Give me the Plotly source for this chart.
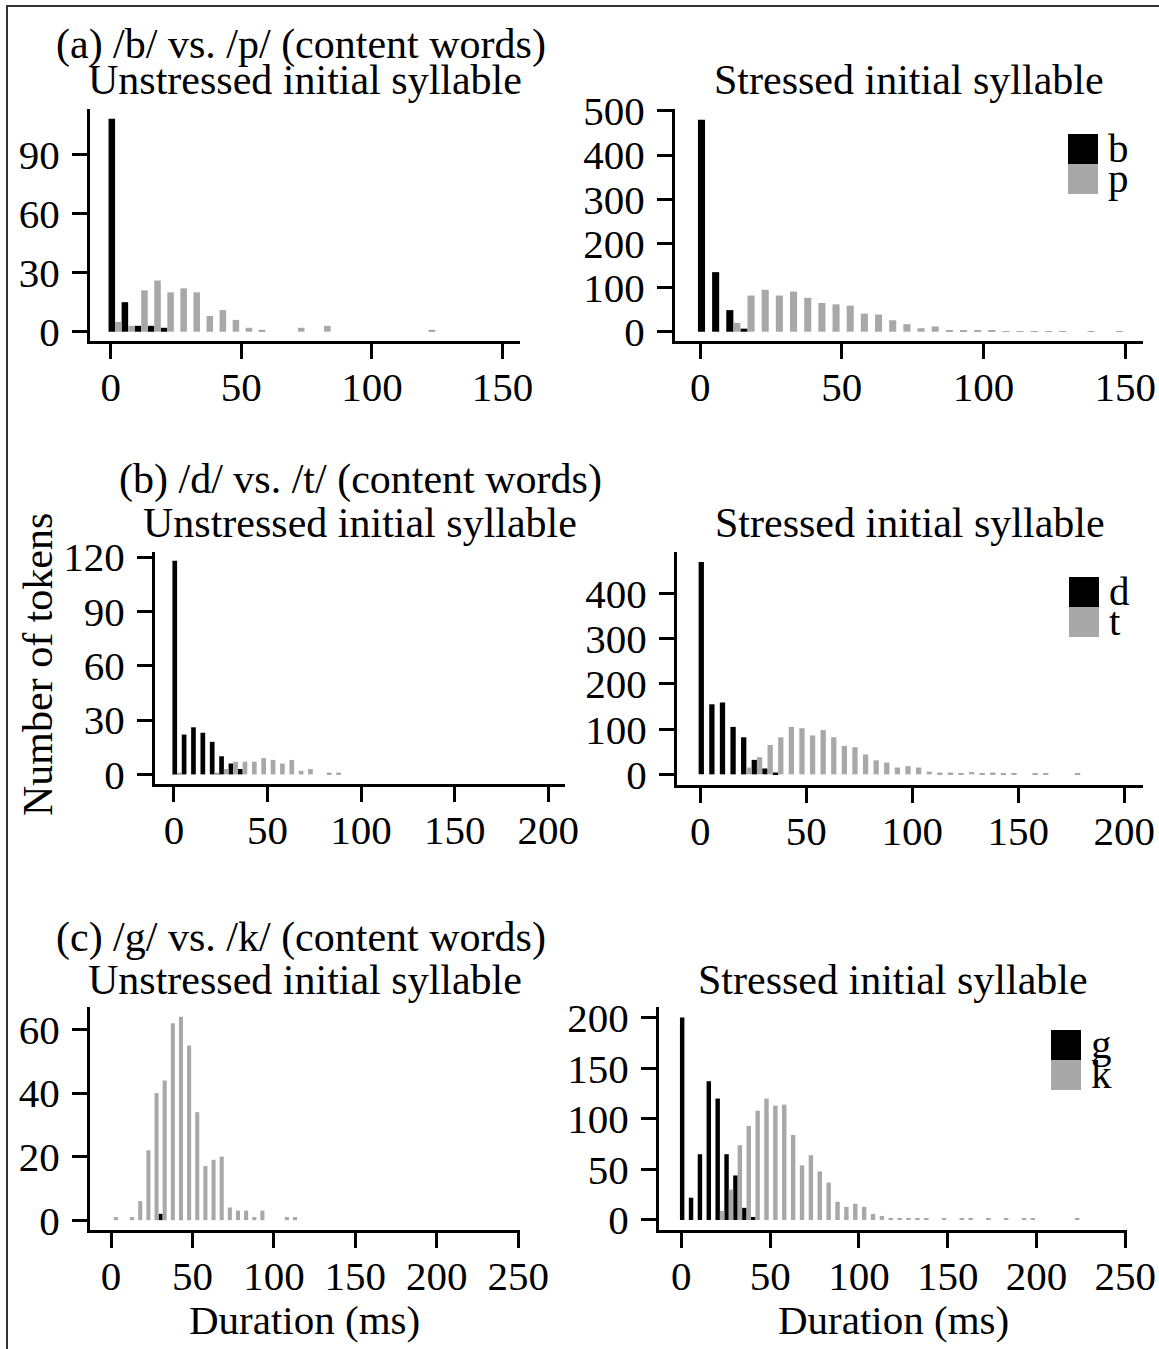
import plotly.graph_objects as go

# ---------------- data (counts per 5-ms bin, bin start in ms) ----------------
bins_a = [0, 5, 10, 15, 20, 25, 30, 35, 40, 45, 50, 55, 60, 65, 70, 75, 80, 85, 90, 95,
          100, 105, 110, 115, 120, 125, 130, 135, 140, 145]
a_unstr_b = [108, 15, 3, 3, 2, 0, 0, 0, 0, 0, 0, 0, 0, 0, 0, 0, 0, 0, 0, 0,
             0, 0, 0, 0, 0, 0, 0, 0, 0, 0]
a_unstr_p = [5, 3, 21, 26, 20, 22, 20, 8, 11, 6, 2, 1, 0, 0, 2, 0, 3, 0, 0, 0,
             0, 0, 0, 0, 1, 0, 0, 0, 0, 0]
a_str_b = [480, 135, 49, 7, 0, 0, 0, 0, 0, 0, 0, 0, 0, 0, 0, 0, 0, 0, 0, 0,
           0, 0, 0, 0, 0, 0, 0, 0, 0, 0]
a_str_p = [0, 0, 20, 82, 95, 82, 91, 77, 65, 62, 59, 41, 39, 26, 17, 8, 12, 2, 2, 4,
           4, 1, 1, 1, 1, 1, 0, 1, 0, 1]

bins_b = [0, 5, 10, 15, 20, 25, 30, 35, 40, 45, 50, 55, 60, 65, 70, 75, 80, 85, 90, 95,
          100, 105, 110, 115, 120, 125, 130, 135, 140, 145, 150, 155, 160, 165, 170, 175]
b_unstr_d = [118, 22, 26, 23, 18, 10, 6, 3, 0, 0, 0, 0, 0, 0, 0, 0, 0, 0, 0, 0,
             0, 0, 0, 0, 0, 0, 0, 0, 0, 0, 0, 0, 0, 0, 0, 0]
b_unstr_t = [1, 0, 0, 0, 1, 3, 7, 7, 7, 9, 8, 6, 8, 2, 3, 0, 1, 1, 0, 0,
             0, 0, 0, 0, 0, 0, 0, 0, 0, 0, 0, 0, 0, 0, 0, 0]
b_str_d = [470, 155, 159, 105, 82, 32, 13, 4, 0, 0, 0, 0, 0, 0, 0, 0, 0, 0, 0, 0,
           0, 0, 0, 0, 0, 0, 0, 0, 0, 0, 0, 0, 0, 0, 0, 0]
b_str_t = [0, 0, 0, 0, 15, 38, 65, 82, 105, 102, 86, 98, 82, 63, 60, 44, 31, 26, 15, 18,
           15, 6, 4, 4, 3, 5, 2, 4, 1, 1, 0, 1, 1, 0, 0, 1]

bins_c = [0, 5, 10, 15, 20, 25, 30, 35, 40, 45, 50, 55, 60, 65, 70, 75, 80, 85, 90, 95,
          100, 105, 110, 115, 120, 125, 130, 135, 140, 145, 150, 155, 160, 165, 170, 175,
          180, 185, 190, 195, 200, 205, 210, 215, 220]
c_unstr_g = [0, 0, 0, 0, 0, 0, 2, 0, 0, 0, 0, 0, 0, 0, 0, 0, 0, 0, 0, 0,
             0, 0, 0, 0, 0, 0, 0, 0, 0, 0, 0, 0, 0, 0, 0, 0, 0, 0, 0, 0, 0, 0, 0, 0, 0]
c_unstr_k = [1, 0, 1, 6, 22, 40, 44, 62, 64, 55, 34, 17, 19, 20, 4, 3, 3, 1, 3, 0,
             0, 1, 1, 0, 0, 0, 0, 0, 0, 0, 0, 0, 0, 0, 0, 0, 0, 0, 0, 0, 0, 0, 0, 0, 0]
c_str_g = [200, 22, 65, 137, 120, 65, 44, 12, 3, 0, 0, 0, 0, 0, 0, 0, 0, 0, 0, 0,
           0, 0, 0, 0, 0, 0, 0, 0, 0, 0, 0, 0, 0, 0, 0, 0, 0, 0, 0, 0, 0, 0, 0, 0, 0]
c_str_k = [0, 0, 0, 0, 9, 30, 74, 93, 108, 120, 113, 114, 84, 54, 64, 48, 37, 18, 13, 16,
           13, 6, 4, 2, 2, 1, 1, 1, 0, 1, 0, 1, 2, 0, 1, 0, 1, 0, 1, 1, 0, 0, 0, 0, 1]

ticks_a_x = [0, 50, 100, 150]
ticks_b_x = [0, 50, 100, 150, 200]
ticks_c_x = [0, 50, 100, 150, 200, 250]
ticks_a_unstr_y = [0, 30, 60, 90]
ticks_a_str_y = [0, 100, 200, 300, 400, 500]
ticks_b_unstr_y = [0, 30, 60, 90, 120]
ticks_b_str_y = [0, 100, 200, 300, 400]
ticks_c_unstr_y = [0, 20, 40, 60]
ticks_c_str_y = [0, 50, 100, 150, 200]

group_titles = ["(a) /b/ vs. /p/ (content words)",
                "(b) /d/ vs. /t/ (content words)",
                "(c) /g/ vs. /k/ (content words)"]
panel_titles = ["Unstressed initial syllable", "Stressed initial syllable"]
series_names = [("b", "p"), ("d", "t"), ("g", "k")]
y_title = "Number of tokens"
x_title = "Duration (ms)"

# ---------------- layout / style ----------------
W, H = 1159, 1349
FONT = "Liberation Serif"
FS = 41
FS_T = 42
DARK = "#000000"
LIGHT = "#a8a8a8"


def fx(p):
    return p / W


def fy(p):
    return 1 - p / H


# (x0,x1,y_top,y_bottom) in px ; x range ; y range
panels = [
    dict(dom=(90, 520, 109, 341), xr=(-7.9, 156.7), yr=(-4.7, 113.0),
         bins=bins_a, s1=a_unstr_b, s2=a_unstr_p, xt=ticks_a_x, yt=ticks_a_unstr_y),
    dict(dom=(675, 1143, 109, 341), xr=(-8.9, 156.3), yr=(-21.0, 504.5),
         bins=bins_a, s1=a_str_b, s2=a_str_p, xt=ticks_a_x, yt=ticks_a_str_y),
    dict(dom=(155, 565, 552, 784), xr=(-10.1, 208.9), yr=(-5.3, 122.8),
         bins=bins_b, s1=b_unstr_d, s2=b_unstr_t, xt=ticks_b_x, yt=ticks_b_unstr_y),
    dict(dom=(677, 1143, 552, 785), xr=(-11.0, 208.8), yr=(-23.6, 492.0),
         bins=bins_b, s1=b_str_d, s2=b_str_t, xt=ticks_b_x, yt=ticks_b_str_y),
    dict(dom=(90, 520, 1007, 1230), xr=(-12.9, 251.1), yr=(-3.1, 67.1),
         bins=bins_c, s1=c_unstr_g, s2=c_unstr_k, xt=ticks_c_x, yt=ticks_c_unstr_y),
    dict(dom=(659, 1127, 1007, 1230), xr=(-12.6, 251.0), yr=(-9.9, 210.5),
         bins=bins_c, s1=c_str_g, s2=c_str_k, xt=ticks_c_x, yt=ticks_c_str_y),
]

fig = go.Figure()
layout = dict(
    width=W, height=H, margin=dict(l=0, r=0, t=0, b=0, autoexpand=False),
    paper_bgcolor="white", plot_bgcolor="white", showlegend=False,
    barmode="overlay", font=dict(family=FONT, size=FS, color="black"),
)

axis_common = dict(showline=True, linecolor="black", linewidth=3, ticks="outside",
                   ticklen=15, tickwidth=3, tickcolor="black", showgrid=False,
                   zeroline=False, tickfont=dict(family=FONT, size=FS, color="black"),
                   fixedrange=True, automargin=False)

for i, p in enumerate(panels):
    n = "" if i == 0 else str(i + 1)
    x0, x1, yt_, yb_ = p["dom"]
    layout["xaxis" + n] = dict(axis_common, domain=[fx(x0), fx(x1)], range=list(p["xr"]),
                               tickvals=p["xt"], anchor="y" + n, ticklabelstandoff=-7)
    layout["yaxis" + n] = dict(axis_common, domain=[fy(yb_), fy(yt_)], range=list(p["yr"]),
                               tickvals=p["yt"], anchor="x" + n, ticklabelstandoff=4)
    fig.add_trace(go.Bar(x=p["bins"], y=p["s1"], offset=-0.8, width=2.5,
                         marker=dict(color=DARK, line=dict(width=0)),
                         xaxis="x" + n, yaxis="y" + n))
    fig.add_trace(go.Bar(x=p["bins"], y=p["s2"], offset=1.7, width=2.5,
                         marker=dict(color=LIGHT, line=dict(width=0)),
                         xaxis="x" + n, yaxis="y" + n))

fig.update_layout(**layout)

ann = []
# group titles
for title, (cx, cy) in zip(group_titles, [(301, 45), (360, 480), (301, 937)]):
    ann.append(dict(text=title, x=fx(cx), y=fy(cy), xref="paper", yref="paper",
                    xanchor="center", yanchor="middle", showarrow=False,
                    font=dict(family=FONT, size=FS_T, color="black")))
# panel titles
title_y = [80, 523, 980]
for i, p in enumerate(panels):
    x0, x1, _, _ = p["dom"]
    ann.append(dict(text=panel_titles[i % 2], x=fx((x0 + x1) / 2), y=fy(title_y[i // 2]),
                    xref="paper", yref="paper", xanchor="center", yanchor="middle",
                    showarrow=False, font=dict(family=FONT, size=FS_T, color="black")))
# axis titles
ann.append(dict(text=y_title, x=fx(38), y=fy(665), xref="paper", yref="paper",
                xanchor="center", yanchor="middle", textangle=-90, showarrow=False,
                font=dict(family=FONT, size=FS_T, color="black")))
for cx in (304, 893):
    ann.append(dict(text=x_title, x=fx(cx), y=fy(1320), xref="paper", yref="paper",
                    xanchor="center", yanchor="middle", showarrow=False,
                    font=dict(family=FONT, size=FS, color="black")))

# legends (square keys stacked, labels to the right)
shapes = []
legend_pos = [(1068, 134), (1069, 577), (1051, 1030)]
for (nm1, nm2), (lx, ly) in zip(series_names, legend_pos):
    for j, (nm, col) in enumerate([(nm1, DARK), (nm2, LIGHT)]):
        top = ly + 30 * j
        shapes.append(dict(type="rect", xref="paper", yref="paper",
                           x0=fx(lx), x1=fx(lx + 30), y0=fy(top + 30), y1=fy(top),
                           fillcolor=col, line=dict(width=0)))
        ann.append(dict(text=nm, x=fx(lx + 38), y=fy(top + 14), xref="paper", yref="paper",
                        xanchor="left", yanchor="middle", showarrow=False,
                        font=dict(family=FONT, size=FS, color="black")))

# outer frame
shapes.append(dict(type="rect", xref="paper", yref="paper", x0=fx(7), y0=fy(6),
                   x1=1.05, y1=-0.05, line=dict(color="#333333", width=2),
                   fillcolor="rgba(0,0,0,0)"))

fig.update_layout(annotations=ann, shapes=shapes)
fig.write_html("out.html", config={"displayModeBar": False},
               post_script="document.body.style.margin='0px';"
                           "document.body.style.overflow='hidden';")
